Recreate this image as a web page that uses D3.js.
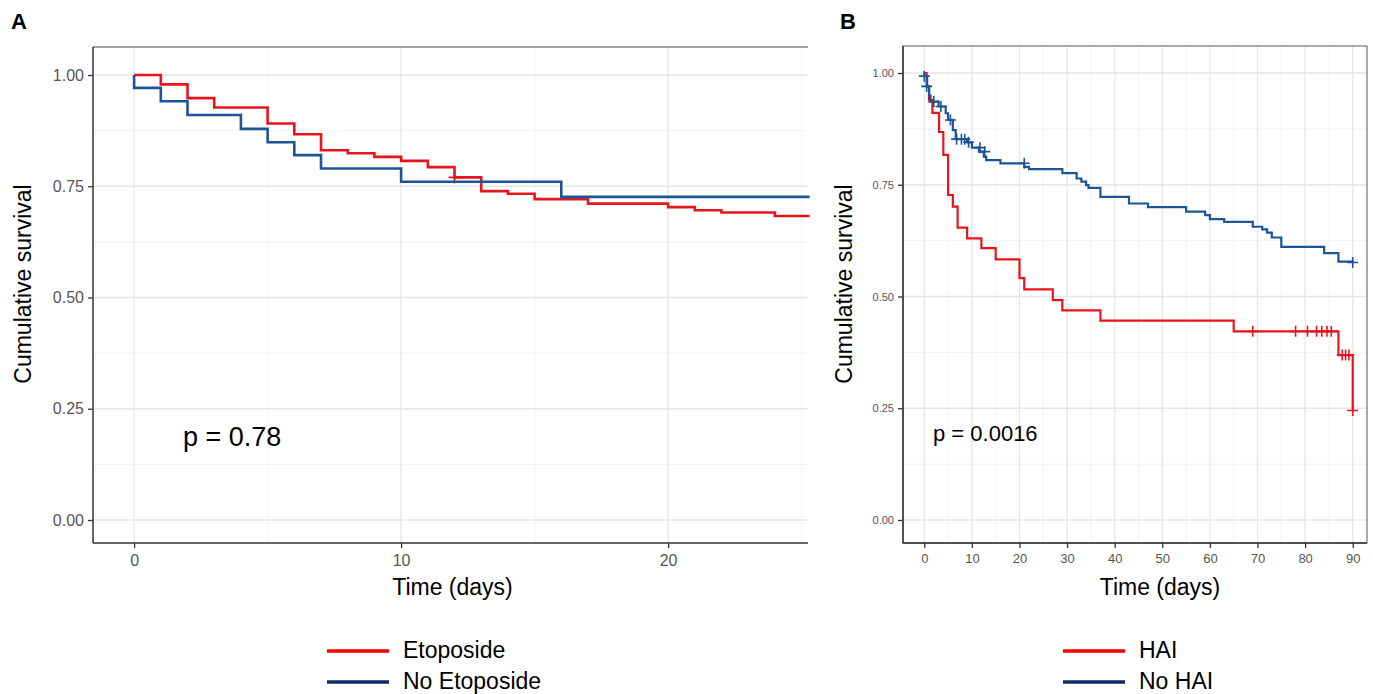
<!DOCTYPE html>
<html>
<head>
<meta charset="utf-8">
<script src="https://cdn.jsdelivr.net/npm/d3@7"></script>
<style>
  body { margin: 0; background: #fff; }
  svg { font-family: "Liberation Sans", Arial, sans-serif; }
</style>
</head>
<body>
<svg id="chart" width="1373" height="694"></svg>
<script>
// Panel A - Etoposide
var etoTime = [0, 1, 2, 3, 5, 6, 7, 8, 9, 10, 11, 12, 13, 14, 15, 17, 20, 21, 22, 24, 25.3];
var etoSurv = [1.0, 0.979, 0.948, 0.927, 0.891, 0.867, 0.831, 0.824, 0.816, 0.807, 0.793, 0.770, 0.739, 0.733, 0.721, 0.711, 0.703, 0.696, 0.691, 0.683, 0.683];
var etoCensT = [12];
var etoCensS = [0.77];

var noEtoTime = [0, 0, 1, 2, 4, 5, 6, 7, 10, 16, 25.3];
var noEtoSurv = [1.0, 0.971, 0.941, 0.910, 0.879, 0.849, 0.820, 0.790, 0.760, 0.726, 0.726];

// Panel B - HAI
var haiTime = [0, 0.5, 1, 1.7, 3.1, 4, 5, 6, 7, 9, 12, 15, 20, 21, 27, 29, 37, 65, 87, 90];
var haiSurv = [1.0, 0.97, 0.94, 0.911, 0.868, 0.817, 0.727, 0.701, 0.654, 0.630, 0.608, 0.583, 0.541, 0.516, 0.492, 0.469, 0.446, 0.422, 0.369, 0.245];
var haiCensT = [69, 78, 80.5, 82.4, 83.5, 84.6, 85.5, 87.8, 88.5, 89.2, 90];
var haiCensS = [0.422, 0.422, 0.422, 0.422, 0.422, 0.422, 0.422, 0.369, 0.369, 0.369, 0.245];

var noHaiTime = [0, 0, 0.6, 1, 1.3, 3, 4.5, 5, 6, 6.6, 9, 10, 11.5, 12.5, 13, 16, 21, 22, 29, 32, 33, 34, 34.5, 37, 43, 47, 55, 59, 60, 63, 69, 71, 72, 73, 75, 84, 87, 90];
var noHaiSurv = [1.0, 0.993, 0.97, 0.95, 0.936, 0.925, 0.91, 0.895, 0.872, 0.852, 0.845, 0.833, 0.824, 0.813, 0.805, 0.798, 0.790, 0.785, 0.776, 0.764, 0.757, 0.749, 0.743, 0.723, 0.708, 0.700, 0.690, 0.682, 0.673, 0.667, 0.656, 0.650, 0.643, 0.632, 0.611, 0.597, 0.578, 0.576];
var noHaiCensT = [0, 0.5, 2, 3.5, 5.5, 6.8, 7.8, 8.5, 9.3, 11.7, 12.7, 21, 90];
var noHaiCensS = [0.993, 0.97, 0.936, 0.925, 0.895, 0.852, 0.852, 0.852, 0.845, 0.833, 0.824, 0.798, 0.576];

var yTicks = [0, 0.25, 0.5, 0.75, 1];

var svg = d3.select("#chart");

function zip(t, s) {
  return t.map(function(d, i) { return [d, s[i]]; });
}

function drawPanel(cfg) {
  var g = svg.append("g");
  var x = d3.scaleLinear().domain(cfg.xDomain).range([cfg.left, cfg.right]);
  var y = d3.scaleLinear().domain(cfg.yDomain).range([cfg.bottom, cfg.top]);

  // minor grid
  g.selectAll(".gxm").data(cfg.xMinor).enter().append("line")
    .attr("x1", function(d) { return x(d); }).attr("x2", function(d) { return x(d); })
    .attr("y1", cfg.top).attr("y2", cfg.bottom)
    .attr("stroke", "#f2f2f2").attr("stroke-width", 1);
  g.selectAll(".gym").data([0.125, 0.375, 0.625, 0.875]).enter().append("line")
    .attr("y1", function(d) { return y(d); }).attr("y2", function(d) { return y(d); })
    .attr("x1", cfg.left).attr("x2", cfg.right)
    .attr("stroke", "#f2f2f2").attr("stroke-width", 1);
  // major grid
  g.selectAll(".gx").data(cfg.xTicks).enter().append("line")
    .attr("x1", function(d) { return x(d); }).attr("x2", function(d) { return x(d); })
    .attr("y1", cfg.top).attr("y2", cfg.bottom)
    .attr("stroke", "#e6e6e6").attr("stroke-width", 1.3);
  g.selectAll(".gy").data(yTicks).enter().append("line")
    .attr("y1", function(d) { return y(d); }).attr("y2", function(d) { return y(d); })
    .attr("x1", cfg.left).attr("x2", cfg.right)
    .attr("stroke", "#e6e6e6").attr("stroke-width", 1.3);

  // frame
  if (cfg.box) {
    g.append("rect").attr("x", cfg.left).attr("y", cfg.top)
      .attr("width", cfg.right - cfg.left).attr("height", cfg.bottom - cfg.top)
      .attr("fill", "none").attr("stroke", "#7f7f7f").attr("stroke-width", 1.3);
  } else {
    g.append("line").attr("x1", cfg.left).attr("x2", cfg.right)
      .attr("y1", cfg.top).attr("y2", cfg.top)
      .attr("stroke", "#7f7f7f").attr("stroke-width", 1.3);
  }

  // curves
  var line = d3.line()
    .x(function(d) { return x(d[0]); })
    .y(function(d) { return y(d[1]); })
    .curve(d3.curveStepAfter);

  cfg.series.forEach(function(s) {
    g.append("path").datum(zip(s.t, s.s))
      .attr("fill", "none").attr("stroke", s.color)
      .attr("stroke-width", cfg.lineWidth).attr("d", line);
    if (s.ct) {
      var cs = zip(s.ct, s.cs);
      g.selectAll(null).data(cs).enter().append("path")
        .attr("d", function(d) {
          var cx = x(d[0]), cy = y(d[1]), h = cfg.cross;
          return "M" + (cx - h) + "," + cy + "H" + (cx + h) + "M" + cx + "," + (cy - h) + "V" + (cy + h);
        })
        .attr("stroke", s.color).attr("stroke-width", 1.6).attr("fill", "none");
    }
  });

  // axes
  var xAxis = g.append("g").attr("transform", "translate(0," + cfg.bottom + ")")
    .call(d3.axisBottom(x).tickValues(cfg.xTicks).tickSize(5).tickPadding(cfg.xPad).tickSizeOuter(0));
  xAxis.select(".domain").attr("d", "M" + cfg.left + ",0H" + cfg.right);
  var yAxis = g.append("g").attr("transform", "translate(" + cfg.left + ",0)")
    .call(d3.axisLeft(y).tickValues(yTicks).tickFormat(d3.format(".2f")).tickSize(5).tickPadding(4).tickSizeOuter(0));
  yAxis.select(".domain").attr("d", "M0," + cfg.top + "V" + cfg.bottom);
  [xAxis, yAxis].forEach(function(a) {
    a.select(".domain").attr("stroke", "#333").attr("stroke-width", 1.5);
    a.selectAll(".tick line").attr("stroke", "#333").attr("stroke-width", 1.3);
    a.selectAll(".tick text").attr("fill", "#555").attr("font-family", "Liberation Sans, Arial, sans-serif");
  });
  xAxis.selectAll(".tick text").attr("font-size", cfg.xTickFont);
  yAxis.selectAll(".tick text").attr("font-size", cfg.yTickFont);

  // labels
  svg.append("text").attr("x", (cfg.left + cfg.right) / 2 + cfg.xLabShift).attr("y", 595)
    .attr("text-anchor", "middle").attr("font-size", 23).attr("fill", "#000").text("Time (days)");
  svg.append("text").attr("transform", "translate(" + cfg.yLabX + ",284) rotate(-90)")
    .attr("text-anchor", "middle").attr("font-size", 23).attr("fill", "#000").text("Cumulative survival");
  svg.append("text").attr("x", cfg.pX).attr("y", cfg.pY).attr("font-size", cfg.pFont)
    .attr("fill", "#000").text(cfg.pText);
  svg.append("text").attr("x", cfg.letterX).attr("y", 29).attr("font-size", 22)
    .attr("font-weight", "bold").attr("fill", "#000").text(cfg.letter);

  // legend
  cfg.legend.forEach(function(l, i) {
    var ly = 651 + i * 31;
    svg.append("line").attr("x1", cfg.legX).attr("x2", cfg.legX + 62)
      .attr("y1", ly).attr("y2", ly).attr("stroke", l.color).attr("stroke-width", 3.5);
    svg.append("text").attr("x", cfg.legX + 76).attr("y", ly + 7)
      .attr("font-size", 23).attr("fill", "#000").text(l.name);
  });
}

drawPanel({
  left: 93, right: 808, top: 47, bottom: 543,
  xDomain: [-1.54, 25.24], yDomain: [-0.0517, 1.0629],
  xTicks: [0, 10, 20], xMinor: [5, 15, 25],
  box: false, lineWidth: 2.6, cross: 6,
  xTickFont: 16, yTickFont: 16, xPad: 7,
  xLabShift: 2, yLabX: 31,
  pText: "p = 0.78", pX: 183, pY: 446, pFont: 27,
  letter: "A", letterX: 11,
  legX: 327,
  legend: [{ name: "Etoposide", color: "#ff0000" }, { name: "No Etoposide", color: "#0e2a6a" }],
  series: [
    { t: etoTime, s: etoSurv, ct: etoCensT, cs: etoCensS, color: "#e8141b" },
    { t: noEtoTime, s: noEtoSurv, color: "#1c5596" }
  ]
});

drawPanel({
  left: 903, right: 1367, top: 46, bottom: 543,
  xDomain: [-4.47, 93.0], yDomain: [-0.0515, 1.0604],
  xTicks: [0, 10, 20, 30, 40, 50, 60, 70, 80, 90],
  xMinor: [5, 15, 25, 35, 45, 55, 65, 75, 85],
  box: true, lineWidth: 2.2, cross: 5.5,
  xTickFont: 13, yTickFont: 11, xPad: 6,
  xLabShift: 25, yLabX: 852,
  pText: "p = 0.0016", pX: 933, pY: 441, pFont: 22,
  letter: "B", letterX: 840,
  legX: 1063,
  legend: [{ name: "HAI", color: "#ff0000" }, { name: "No HAI", color: "#0e2a6a" }],
  series: [
    { t: haiTime, s: haiSurv, ct: haiCensT, cs: haiCensS, color: "#e8141b" },
    { t: noHaiTime, s: noHaiSurv, ct: noHaiCensT, cs: noHaiCensS, color: "#1c5596" }
  ]
});
</script>
</body>
</html>
